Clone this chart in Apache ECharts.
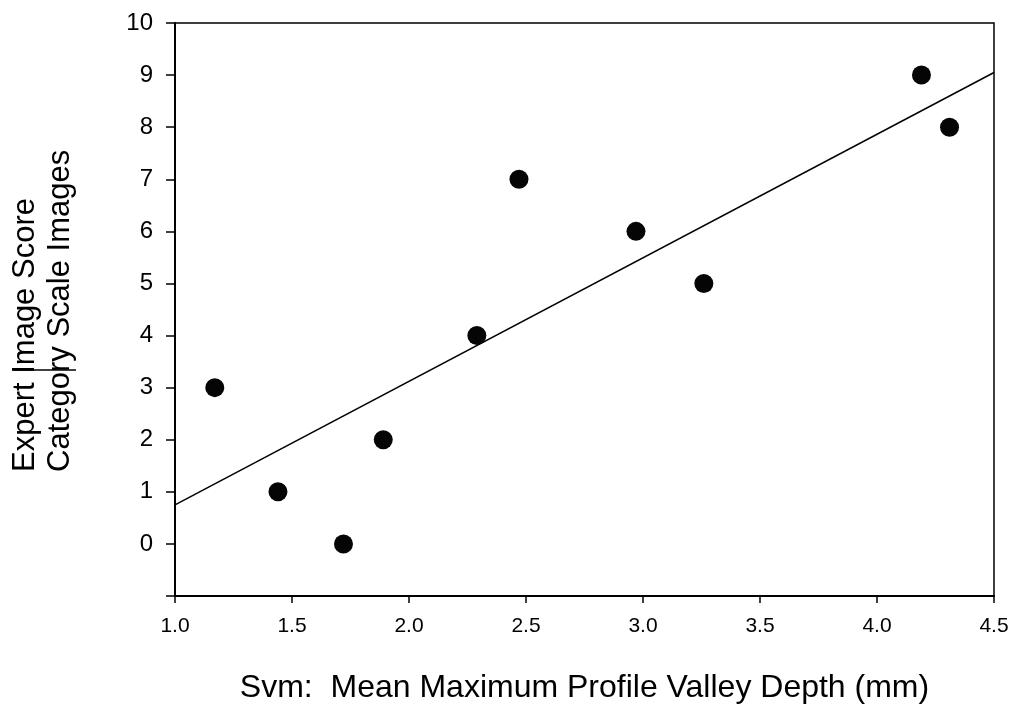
<!DOCTYPE html>
<html>
<head>
<meta charset="utf-8">
<script src="https://cdn.jsdelivr.net/npm/echarts@6/dist/echarts.min.js"></script>
<style>
  html, body { margin: 0; padding: 0; background: #fff; }
  #chart { width: 1013px; height: 709px; }
</style>
</head>
<body>
<div id="chart"></div>
<script>
    // measured points: Svm (mm) vs expert score
    var svm = [1.17, 1.44, 1.72, 1.89, 2.29, 2.47, 2.97, 3.26, 4.19, 4.31];
    var score = [3, 1, 0, 2, 4, 7, 6, 5, 9, 8];
    // fitted line end points
    var fitX = [1.0, 4.5];
    var fitY = [0.75, 9.05];

    var font = 'Liberation Sans, Arial, sans-serif';
    var chart = echarts.init(document.getElementById('chart'));

    var points = [];
    for (var i = 0; i < svm.length; i++) {
        points.push([svm[i], score[i]]);
    }
    var fit = [];
    for (var j = 0; j < fitX.length; j++) {
        fit.push([fitX[j], fitY[j]]);
    }

    var option = {
        backgroundColor: '#fff',
        animation: false,
        grid: {
            left: 175,
            right: 19,
            top: 23,
            bottom: 108,
            show: true,
            borderColor: '#000',
            borderWidth: 1.5
        },
        xAxis: {
            type: 'value',
            min: 1,
            max: 4.5,
            interval: 0.5,
            name: 'Svm:  Mean Maximum Profile Valley Depth (mm)',
            nameLocation: 'middle',
            nameGap: 76,
            nameTextStyle: { fontFamily: font, fontSize: 32, color: '#000' },
            axisLine: { onZero: false, lineStyle: { color: '#000', width: 2 } },
            axisTick: { length: 7, lineStyle: { color: '#000', width: 1.5 } },
            axisLabel: {
                margin: 20,
                fontFamily: font,
                fontSize: 21,
                color: '#000',
                formatter: function (v) { return v.toFixed(1); }
            },
            splitLine: { show: false }
        },
        yAxis: {
            type: 'value',
            min: -1,
            max: 10,
            interval: 1,
            axisLine: { lineStyle: { color: '#000', width: 2 } },
            axisTick: { length: 9, lineStyle: { color: '#000', width: 1.5 } },
            axisLabel: {
                margin: 22,
                fontFamily: font,
                fontSize: 24,
                color: '#000',
                formatter: function (v) { return v < 0 ? '' : String(v); }
            },
            splitLine: { show: false }
        },
        graphic: [
            {
                type: 'text',
                x: 25,
                y: 472,
                rotation: Math.PI / 2,
                style: {
                    text: 'Expert Image Score',
                    fontFamily: font,
                    fontSize: 31,
                    fill: '#000',
                    textAlign: 'left',
                    textVerticalAlign: 'middle'
                }
            },
            {
                type: 'text',
                x: 60,
                y: 472,
                rotation: Math.PI / 2,
                style: {
                    text: 'Category Scale Images',
                    fontFamily: font,
                    fontSize: 31,
                    fill: '#000',
                    textAlign: 'left',
                    textVerticalAlign: 'middle'
                }
            },
            {
                type: 'line',
                shape: { x1: 14, y1: 370, x2: 76, y2: 370 },
                style: { stroke: '#000', lineWidth: 1.5 }
            }
        ],
        series: [
            {
                type: 'line',
                data: fit,
                showSymbol: false,
                lineStyle: { color: '#000', width: 1.5 },
                z: 2
            },
            {
                type: 'scatter',
                data: points,
                symbolSize: 19,
                itemStyle: { color: '#050505', opacity: 1 },
                z: 3
            }
        ]
    };

    chart.setOption(option);
</script>
</body>
</html>
